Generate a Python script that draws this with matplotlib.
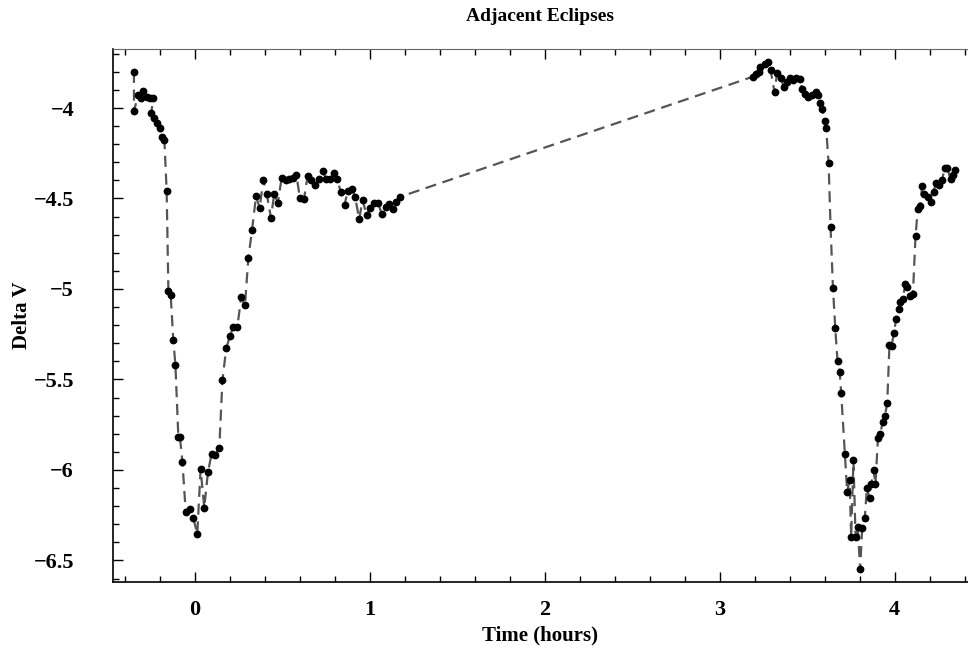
import matplotlib
matplotlib.use("Agg")
import matplotlib.pyplot as plt
from matplotlib.ticker import MultipleLocator, FuncFormatter

# Time (hours) and Delta V
time_h = [
    -0.349, -0.349, -0.324, -0.310, -0.299, -0.276, -0.257, -0.238, -0.251, -0.232,
    -0.215, -0.200, -0.187, -0.175, -0.162, -0.152, -0.139, -0.124, -0.112, -0.095,
    -0.086, -0.072, -0.053, -0.029, -0.010, 0.013, 0.032, 0.053, 0.074, 0.095,
    0.117, 0.139, 0.157, 0.179, 0.200, 0.219, 0.242, 0.264, 0.286, 0.305,
    0.326, 0.349, 0.370, 0.390, 0.411, 0.434, 0.453, 0.474, 0.495, 0.518,
    0.539, 0.562, 0.580, 0.600, 0.623, 0.644, 0.665, 0.688, 0.707, 0.730,
    0.750, 0.771, 0.794, 0.813, 0.834, 0.855, 0.874, 0.897, 0.916, 0.939,
    0.958, 0.981, 1.003, 1.025, 1.046, 1.069, 1.090, 1.110, 1.131, 1.152,
    1.175,
    3.190, 3.206, 3.225, 3.232, 3.257, 3.276, 3.291, 3.314, 3.328, 3.349,
    3.368, 3.385, 3.400, 3.419, 3.438, 3.457, 3.472, 3.486, 3.507, 3.528,
    3.549, 3.562, 3.571, 3.587, 3.600, 3.609, 3.623, 3.634, 3.648, 3.661,
    3.674, 3.686, 3.695, 3.716, 3.729, 3.743, 3.752, 3.765, 3.777, 3.790,
    3.803, 3.815, 3.830, 3.842, 3.857, 3.867, 3.880, 3.891, 3.905, 3.918,
    3.933, 3.945, 3.958, 3.971, 3.983, 3.996, 4.009, 4.023, 4.034, 4.047,
    4.061, 4.070, 4.086, 4.105, 4.120, 4.133, 4.146, 4.158, 4.171, 4.190,
    4.209, 4.223, 4.238, 4.257, 4.272, 4.286, 4.301, 4.320, 4.333, 4.347,
]
delta_v = [
    -3.800, -4.015, -3.928, -3.946, -3.906, -3.940, -3.946, -3.946, -4.030, -4.057,
    -4.085, -4.112, -4.162, -4.177, -4.459, -5.009, -5.033, -5.284, -5.418, -5.820,
    -5.820, -5.954, -6.230, -6.217, -6.263, -6.355, -5.996, -6.208, -6.014, -5.910,
    -5.917, -5.877, -5.503, -5.326, -5.260, -5.208, -5.212, -5.046, -5.088, -4.830,
    -4.676, -4.486, -4.554, -4.396, -4.477, -4.606, -4.477, -4.523, -4.389, -4.398,
    -4.394, -4.385, -4.370, -4.500, -4.504, -4.376, -4.400, -4.425, -4.394, -4.348,
    -4.394, -4.394, -4.357, -4.394, -4.466, -4.536, -4.457, -4.449, -4.493, -4.615,
    -4.508, -4.591, -4.554, -4.523, -4.523, -4.587, -4.545, -4.532, -4.558, -4.518,
    -4.490,
    -3.827, -3.814, -3.800, -3.772, -3.757, -3.748, -3.790, -3.913, -3.808, -3.833,
    -3.886, -3.855, -3.833, -3.845, -3.833, -3.841, -3.895, -3.923, -3.941, -3.928,
    -3.913, -3.928, -3.971, -4.006, -4.070, -4.112, -4.306, -4.656, -4.996, -5.217,
    -5.398, -5.457, -5.576, -5.913, -6.120, -6.058, -6.368, -5.946, -6.368, -6.313,
    -6.549, -6.322, -6.263, -6.098, -6.157, -6.077, -6.003, -6.077, -5.825, -5.801,
    -5.733, -5.700, -5.632, -5.309, -5.313, -5.245, -5.167, -5.110, -5.074, -5.057,
    -4.974, -4.990, -5.039, -5.028, -4.707, -4.560, -4.541, -4.430, -4.475, -4.493,
    -4.518, -4.462, -4.413, -4.425, -4.398, -4.333, -4.333, -4.392, -4.370, -4.343,
]

plt.rcParams['font.family'] = ['Liberation Serif', 'DejaVu Serif']
plt.rcParams['font.weight'] = 'bold'

fig = plt.figure(figsize=(9.68, 6.57), dpi=100)
ax = fig.add_axes([0.1167, 0.1142, 0.8833, 0.8112])

ax.plot(time_h, delta_v, linestyle=(0, (5, 3)), color='#555555', linewidth=1.6, zorder=1)
ax.plot(time_h, delta_v, 'o', color='black', markersize=4.6, zorder=2)

ax.set_xlim(-0.469, 4.42)
ax.set_ylim(-6.619, -3.674)

ax.xaxis.set_major_locator(MultipleLocator(1))
ax.xaxis.set_minor_locator(MultipleLocator(0.2))
ax.yaxis.set_major_locator(MultipleLocator(0.5))
ax.yaxis.set_minor_locator(MultipleLocator(0.1))

def fmt(v, pos):
    s = f"{v:g}"
    return s.replace('-', '\u2212')

ax.xaxis.set_major_formatter(FuncFormatter(fmt))
ax.yaxis.set_major_formatter(FuncFormatter(fmt))

ax.tick_params(which='both', direction='in', top=True, right=False,
               labelsize=16, width=1)
ax.tick_params(axis='x', which='major', pad=13)
ax.tick_params(axis='y', which='major', pad=28)
ax.tick_params(which='major', length=7)
ax.tick_params(which='minor', length=4)
for lbl in ax.get_xticklabels() + ax.get_yticklabels():
    lbl.set_fontweight('bold')

ax.spines['right'].set_visible(False)
for s in ['left', 'bottom']:
    ax.spines[s].set_linewidth(1.2)
ax.spines['top'].set_color('#666666')

ax.set_xlabel('Time (hours)', fontsize=15, fontweight='bold', labelpad=4)
ax.set_ylabel('Delta V', fontsize=15, fontweight='bold', labelpad=1)
ax.set_title('Adjacent Eclipses', fontsize=14, fontweight='bold', pad=20)

fig.savefig('out.png', dpi=100)
